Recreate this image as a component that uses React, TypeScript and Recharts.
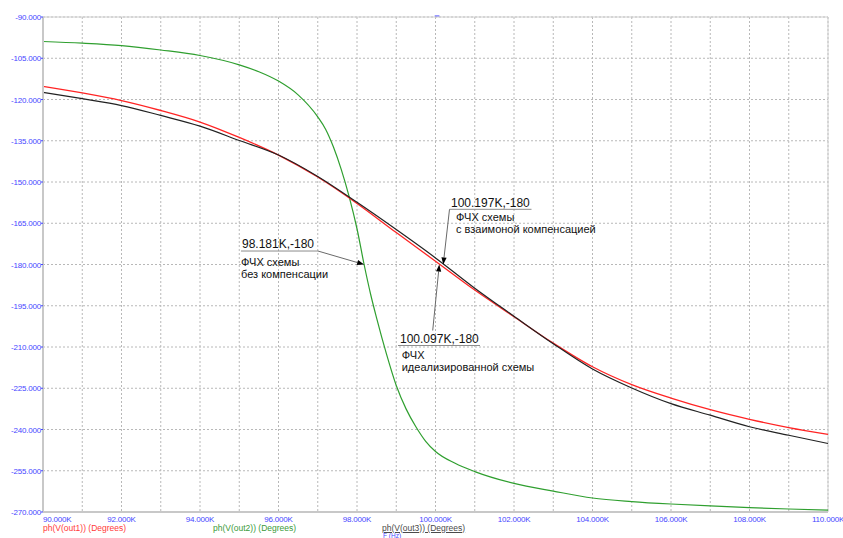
import { LineChart, Line, XAxis, YAxis, CartesianGrid, ReferenceLine } from 'recharts';

// frequency in kHz, phase in degrees
const mainFreq = [90, 91, 92, 93, 94, 95, 96, 97, 98, 99, 100, 101, 102, 103, 104, 105, 106, 107, 108, 109, 110];
const out1Phase = [-115.2, -117.6, -120.4, -124.0, -128.2, -133.8, -140.2, -148.2, -157.8, -168.4, -178.8, -189.3, -199.0, -208.6, -217.2, -223.7, -228.6, -232.8, -236.3, -239.3, -241.8];
const out3Phase = [-117.4, -119.7, -122.2, -125.8, -129.7, -134.9, -140.2, -148.0, -157.4, -167.3, -177.6, -188.6, -198.8, -208.8, -218.0, -224.9, -230.6, -234.8, -239.0, -242.1, -245.1];

const out2Freq = [90, 91, 92, 93, 94, 95, 95.5, 96, 96.5, 97, 97.2, 97.4, 97.6, 97.8, 98, 98.181, 98.35, 98.5, 98.75, 99, 99.25, 99.5, 99.75, 100, 100.5, 101, 102, 103, 104, 105, 106, 107, 108, 109, 110];
const out2Phase = [-98.9, -99.5, -100.4, -102.0, -104.0, -107.4, -109.9, -113.3, -118.3, -126.3, -130.8, -137.3, -145.5, -155.3, -167.0, -180.0, -191.0, -199.5, -212.5, -224.0, -232.5, -239.0, -244.3, -248.0, -252.3, -255.3, -259.6, -262.4, -264.9, -266.2, -267.1, -267.8, -268.4, -268.9, -269.3];

const xTicks = [90, 91, 92, 93, 94, 95, 96, 97, 98, 99, 100, 101, 102, 103, 104, 105, 106, 107, 108, 109, 110];
const yTicks = [-90, -105, -120, -135, -150, -165, -180, -195, -210, -225, -240, -255, -270];

// cursor readouts: where each curve crosses -180
const markerFreq = [98.181, 100.197, 100.097];
const markerPhase = -180;
const markerTitle = ['98.181K,-180', '100.197K,-180', '100.097K,-180'];
const markerText = [
  ['ФЧХ схемы', 'без компенсации'],
  ['ФЧХ схемы', 'с взаимоной компенсацией'],
  ['ФЧХ', 'идеализированной схемы'],
];

const FONT = '"Liberation Sans", Arial, sans-serif';
const BLUE = '#4646ff';

const mainRows = mainFreq.map((f, i) => ({ f, out1: out1Phase[i], out3: out3Phase[i] }));
const out2Rows = out2Freq.map((f, i) => ({ f, out2: out2Phase[i] }));

// label boxes: leader start (data coords) and text offsets in px
const boxes = [
  { start: { x: 97.006, y: -175.1 }, ul: [-77, 0, 0], title: [-76, -3], lines: [[-77, 14.5], [-77, 26.5]] },
  { start: { x: 100.357, y: -159.93 }, ul: [0, 82, 0], title: [1.5, -2.7], lines: [[6.5, 11.7], [6.5, 23.5]] },
  { start: { x: 99.929, y: -204.0 }, ul: [-34.7, 47.3, 15], title: [-32.7, 12.3], lines: [[-31, 28.3], [-31, 40.8]] },
];

function XTick(props: any) {
  const v = props.payload.value;
  if (v % 2 !== 0) return <g />;
  return (
    <text x={props.x} y={props.y + 7.5} textAnchor={v === 90 ? 'start' : 'middle'} fill={BLUE} fontSize={8} fontFamily={FONT} letterSpacing={-0.2}>
      {v.toFixed(3)}K
    </text>
  );
}

function YTick(props: any) {
  return (
    <text x={props.x + 1} y={props.y + 3} textAnchor="end" fill={BLUE} fontSize={8} fontFamily={FONT} letterSpacing={-0.2}>
      {props.payload.value.toFixed(3)}
    </text>
  );
}

function makeMarkerShape(idx: number) {
  return (p: any) => {
    const { x1, y1, x2, y2 } = p;
    const b = boxes[idx];
    const ang = Math.atan2(y2 - y1, x2 - x1);
    const len = 7;
    const w = 2.6;
    const bx = x2 - len * Math.cos(ang);
    const by = y2 - len * Math.sin(ang);
    const nx = -Math.sin(ang) * w;
    const ny = Math.cos(ang) * w;
    return (
      <g>
        <line x1={x1 + b.ul[0]} y1={y1 + b.ul[2]} x2={x1 + b.ul[1]} y2={y1 + b.ul[2]} stroke="#8c8c8c" strokeWidth={1} />
        <line x1={x1} y1={y1} x2={bx} y2={by} stroke="#6a6a6a" strokeWidth={1} />
        <polygon points={`${x2},${y2} ${bx + nx},${by + ny} ${bx - nx},${by - ny}`} fill="#000" />
        <text x={x1 + b.title[0]} y={y1 + b.title[1]} fontSize={12} fontFamily={FONT} fill="#111">
          {markerTitle[idx]}
        </text>
        {markerText[idx].map((t, k) => (
          <text key={k} x={x1 + b.lines[k][0]} y={y1 + b.lines[k][1]} fontSize={11} fontFamily={FONT} fill="#111">
            {t}
          </text>
        ))}
      </g>
    );
  };
}

const legendStyle = (left: number, top: number, color: string): any => ({
  position: 'absolute',
  left,
  top,
  fontSize: 8.5,
  lineHeight: '8.5px',
  fontFamily: FONT,
  color,
  whiteSpace: 'nowrap',
});

export default function App() {
  return (
    <div style={{ position: 'absolute', left: 0, top: 0, width: 843, height: 538, overflow: 'hidden', background: '#fff' }}>
      <LineChart width={843} height={538} data={mainRows} margin={{ top: 17, right: 15, left: 0, bottom: 0 }}>
        <CartesianGrid stroke="#b8b8b8" strokeDasharray="2 2" />
        <XAxis
          dataKey="f"
          type="number"
          domain={[90, 110]}
          ticks={xTicks}
          interval={0}
          height={26}
          tickLine={false}
          tickSize={0}
          tick={<XTick />}
          axisLine={{ stroke: '#c8c8c8', strokeWidth: 2 }}
        />
        <YAxis
          type="number"
          domain={[-270, -90]}
          ticks={yTicks}
          interval={0}
          width={43}
          tickSize={2}
          tickMargin={1}
          tickLine={{ stroke: BLUE }}
          tick={<YTick />}
          axisLine={{ stroke: '#c8c8c8', strokeWidth: 2 }}
        />
        <ReferenceLine y={-90} stroke="#cfcfcf" />
        <ReferenceLine x={110} stroke="#cfcfcf" />
        <ReferenceLine
          segment={[{ x: 99.98, y: -89.6 }, { x: 100.1, y: -89.6 }]}
          stroke="#5a5aff"
          ifOverflow="visible"
        />
        <Line data={out2Rows} dataKey="out2" type="monotone" stroke="#2f9f2f" strokeWidth={1.2} dot={false} isAnimationActive={false} />
        <Line dataKey="out1" type="monotone" stroke="#ff2424" strokeWidth={1.3} dot={false} isAnimationActive={false} />
        <Line dataKey="out3" type="monotone" stroke="#222" strokeWidth={1.2} dot={false} isAnimationActive={false} />
        {boxes.map((b, i) => (
          <ReferenceLine
            key={i}
            segment={[b.start, { x: markerFreq[i], y: markerPhase }]}
            ifOverflow="visible"
            shape={makeMarkerShape(i)}
          />
        ))}
      </LineChart>
      <div style={legendStyle(43, 523.5, '#ff3a3a')}>ph(V(out1)) (Degrees)</div>
      <div style={legendStyle(213, 523.5, '#3a9a3a')}>ph(V(out2)) (Degrees)</div>
      <div style={{ ...legendStyle(382, 523.5, '#4a4a4a'), textDecoration: 'underline' }}>ph(V(out3)) (Degrees)</div>
      <div style={{ ...legendStyle(383, 532.5, '#4a4aff'), fontSize: 6.5, lineHeight: '6px' }}>F (Hz)</div>
    </div>
  );
}
